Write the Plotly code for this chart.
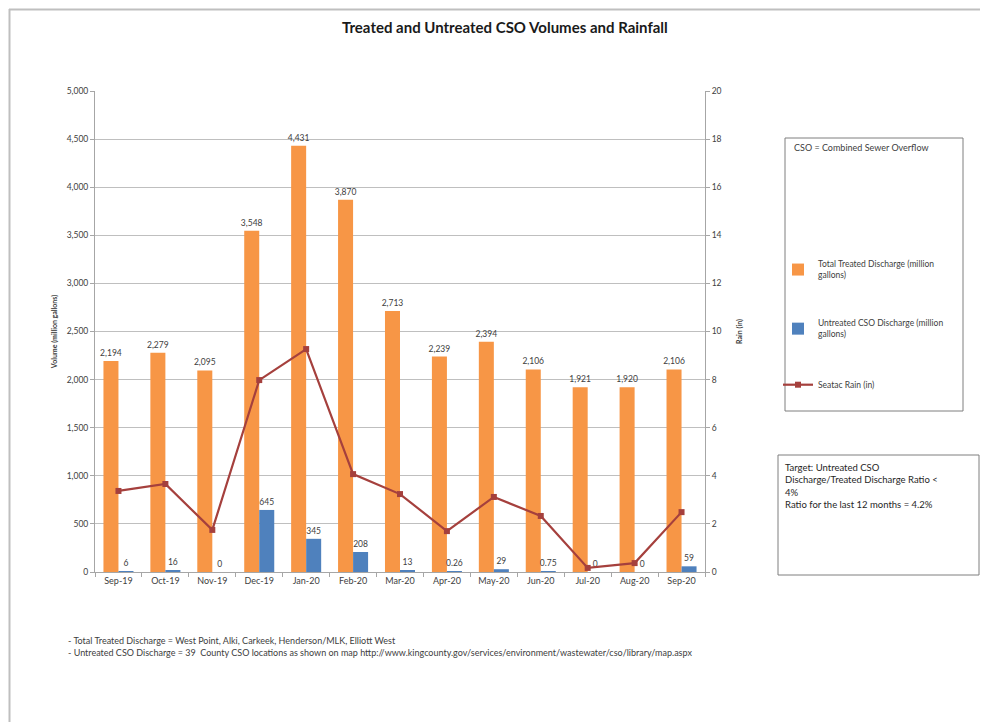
import plotly.graph_objects as go

# page body has an 8px margin; figure sized so it fits the 988x722 window
OFF = 8
W, H = 988 - OFF, 722 - OFF

months = ["Sep-19", "Oct-19", "Nov-19", "Dec-19", "Jan-20", "Feb-20", "Mar-20",
          "Apr-20", "May-20", "Jun-20", "Jul-20", "Aug-20", "Sep-20"]
treated = [2194, 2279, 2095, 3548, 4431, 3870, 2713, 2239, 2394, 2106, 1921, 1920, 2106]
untreated = [6, 16, 0, 645, 345, 208, 13, 0.26, 29, 0.75, 0, 0, 59]
rain = [3.37, 3.66, 1.75, 7.98, 9.27, 4.07, 3.24, 1.70, 3.12, 2.33, 0.17, 0.37, 2.49]

FONT = "Liberation Sans Narrow, Lato, Liberation Sans, sans-serif"
TXT = "#404040"

def px(x):
    return (x - OFF) / W

def py(y):
    return 1 - (y - OFF) / H

fig = go.Figure()
fig.add_trace(go.Bar(
    x=months, y=treated, name="Total Treated Discharge (million<br>gallons)",
    marker=dict(color="#F79646", line=dict(width=0)),
    texttemplate="%{y:,}", textposition="outside", cliponaxis=False, constraintext="none",
    textfont=dict(size=8.5, color=TXT, family=FONT), legendgroup="a",
))
fig.add_trace(go.Bar(
    x=months, y=untreated, name="Untreated CSO Discharge (million<br>gallons)",
    marker=dict(color="#4F81BD", line=dict(width=0)),
    text=[f"{v:g}" for v in untreated], textposition="outside", cliponaxis=False,
    constraintext="none",
    textfont=dict(size=8.5, color=TXT, family=FONT), legendgroup="b",
))
fig.add_trace(go.Scatter(
    x=months, y=rain, name="Seatac Rain (in)", yaxis="y2", mode="lines+markers",
    line=dict(color="#A5403D", width=2.2),
    marker=dict(symbol="square", size=6, color="#A5403D"),
    legendgroup="c",
))

fig.update_layout(
    width=W, height=H,
    margin=dict(l=0, r=0, t=0, b=0),
    paper_bgcolor="white", plot_bgcolor="white",
    font=dict(family=FONT, color=TXT, size=9),
    barmode="group", bargap=0.36, bargroupgap=0,
    showlegend=True,
    legend=dict(x=px(778), y=py(252), xanchor="left", yanchor="top",
                font=dict(size=8.5, color=TXT, family=FONT),
                bgcolor="rgba(0,0,0,0)", borderwidth=0,
                tracegroupgap=34, itemwidth=30, traceorder="grouped"),
    xaxis=dict(domain=[px(95), px(705)], range=[-0.5, len(months) - 0.5],
               showline=True, linecolor="#A6A6A6",
               ticks="outside", tickson="boundaries", ticklen=4, tickcolor="#A6A6A6",
               tickfont=dict(size=9, color=TXT), automargin=False, showgrid=False),
    yaxis=dict(domain=[py(572), py(91)], range=[0, 5000], dtick=500, tickformat=",",
               showline=True, linecolor="#A6A6A6", ticks="outside", ticklen=4,
               tickcolor="#A6A6A6", gridcolor="#BFBFBF", gridwidth=1,
               tickfont=dict(size=8.5, color=TXT), automargin=False, zeroline=False,
               title=dict(text="<b>Volume (million gallons)</b>", font=dict(size=7, color=TXT), standoff=8)),
    yaxis2=dict(overlaying="y", side="right", range=[0, 20], dtick=2, showgrid=False,
                showline=True, linecolor="#A6A6A6", ticks="outside", ticklen=4,
                tickcolor="#A6A6A6", tickfont=dict(size=8.5, color=TXT), automargin=False,
                zeroline=False,
                title=dict(text="<b>Rain (in)</b>", font=dict(size=7, color=TXT), standoff=16)),
)

shapes = [
    dict(type="line", xref="paper", yref="paper", x0=px(9), x1=1, y0=py(9.5), y1=py(9.5),
         line=dict(color="#BFBFBF", width=2)),
    dict(type="line", xref="paper", yref="paper", x0=px(9.5), x1=px(9.5), y0=py(9), y1=0,
         line=dict(color="#BFBFBF", width=2)),
    dict(type="rect", xref="paper", yref="paper", x0=px(785), x1=px(963), y0=py(138), y1=py(411),
         line=dict(color="#7F7F7F", width=1)),
    dict(type="rect", xref="paper", yref="paper", x0=px(778), x1=px(979), y0=py(455), y1=py(575),
         line=dict(color="#7F7F7F", width=1)),
]
fig.update_layout(shapes=shapes)

ann = [
    dict(text="<b>Treated and Untreated CSO Volumes and Rainfall</b>", x=px(505), y=py(27),
         xanchor="center", yanchor="middle", font=dict(size=15, color="#1a1a1a", family=FONT)),
    dict(text="CSO = Combined Sewer Overflow", x=px(792), y=py(148), xanchor="left", yanchor="middle",
         font=dict(size=9, color=TXT, family=FONT)),
    dict(text="Target: Untreated CSO<br>Discharge/Treated Discharge Ratio &lt;<br>4%<br>Ratio for the last 12 months = 4.2%",
         x=px(783), y=py(460), xanchor="left", yanchor="top", align="left",
         font=dict(size=9.5, color="#262626", family=FONT)),
    dict(text="- Total Treated Discharge = West Point, Alki, Carkeek, Henderson/MLK, Elliott West<br>"
              "- Untreated CSO Discharge = 39  County CSO locations as shown on map http://www.kingcounty.gov/services/environment/wastewater/cso/library/map.aspx",
         x=px(66), y=py(633), xanchor="left", yanchor="top", align="left",
         font=dict(size=9, color=TXT, family=FONT)),
]
for a in ann:
    a.update(xref="paper", yref="paper", showarrow=False)
fig.update_layout(annotations=ann)

fig.write_html("out.html")
